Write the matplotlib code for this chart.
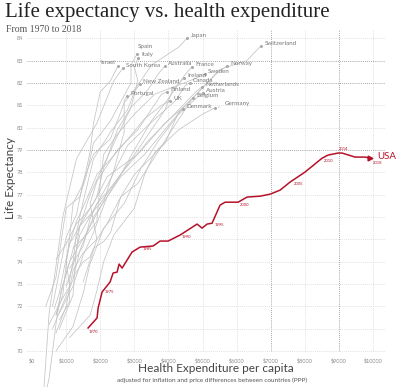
import matplotlib
matplotlib.use('Agg')
import matplotlib.pyplot as plt

# years for the grey country lines
years = [1970, 1975, 1980, 1985, 1990, 1995, 2000, 2005, 2010, 2015, 2018]

# health expenditure per capita ($) and life expectancy, per country
japan_spend = [600, 1000, 1300, 1500, 1800, 2300, 2700, 3100, 3500, 4300, 4545]
japan_le = [72.0, 75.1, 76.1, 77.6, 78.8, 79.5, 81.1, 81.9, 82.8, 83.6, 84.0]
swiss_spend = [1500, 1900, 2200, 2600, 3100, 3600, 4100, 4700, 5500, 6300, 6716]
swiss_le = [73.1, 75.0, 75.7, 76.9, 77.5, 78.7, 79.9, 81.3, 82.6, 83.0, 83.66]
spain_spend = [400, 700, 900, 1000, 1400, 1600, 1800, 2300, 2900, 2900, 3079]
spain_le = [72.0, 73.3, 75.4, 76.4, 76.9, 77.9, 79.3, 80.3, 82.0, 82.8, 83.30]
italy_spend = [700, 900, 1100, 1400, 1900, 2100, 2500, 2900, 3100, 3000, 3109]
italy_le = [71.6, 72.9, 74.0, 75.6, 76.9, 78.2, 79.9, 80.9, 82.1, 82.7, 83.13]
israel_spend = [700, 900, 1000, 1100, 1200, 1500, 1700, 1800, 2000, 2300, 2522]
israel_le = [71.6, 72.5, 73.9, 75.1, 76.6, 77.5, 78.9, 80.2, 81.6, 82.1, 82.77]
korea_spend = [80, 150, 250, 350, 500, 700, 900, 1300, 1900, 2400, 2669]
korea_le = [62.3, 64.5, 66.1, 68.4, 71.7, 73.8, 76.0, 78.6, 80.2, 82.1, 82.68]
australia_spend = [800, 1200, 1300, 1400, 1700, 2000, 2400, 2900, 3400, 3700, 3900]
australia_le = [71.0, 72.5, 74.6, 75.6, 77.0, 78.0, 79.3, 80.9, 81.7, 82.4, 82.77]
france_spend = [800, 1200, 1500, 1800, 2200, 2600, 3000, 3500, 4000, 4500, 4692]
france_le = [71.7, 72.9, 74.3, 75.3, 76.9, 77.9, 79.0, 80.3, 81.3, 82.4, 82.72]
norway_spend = [700, 1000, 1300, 1500, 1800, 2200, 3100, 3900, 4500, 5400, 5718]
norway_le = [74.1, 74.8, 75.7, 76.0, 76.6, 77.8, 78.8, 80.2, 81.0, 82.4, 82.77]
ireland_spend = [500, 800, 1100, 1000, 1100, 1400, 2000, 3100, 3900, 4100, 4457]
ireland_le = [71.2, 72.1, 72.9, 74.0, 74.8, 75.6, 76.6, 79.0, 80.8, 81.6, 82.23]
sweden_spend = [1200, 1600, 1900, 1950, 2000, 2100, 2500, 3000, 3600, 4800, 5073]
sweden_le = [74.6, 75.2, 75.8, 76.7, 77.6, 78.8, 79.7, 80.6, 81.5, 82.2, 82.41]
canada_spend = [1000, 1200, 1400, 1800, 2200, 2400, 2800, 3400, 4200, 4500, 4633]
canada_le = [72.9, 73.8, 75.2, 76.3, 77.4, 78.0, 79.2, 80.1, 81.2, 81.9, 82.0]
nz_spend = [800, 1100, 1100, 1200, 1300, 1500, 1800, 2300, 2800, 3000, 3167]
nz_le = [71.4, 72.2, 73.2, 74.0, 75.3, 76.7, 78.6, 79.8, 80.8, 81.6, 81.96]
netherlands_spend = [1100, 1500, 1700, 1900, 2200, 2400, 2700, 3400, 4300, 4800, 4985]
netherlands_le = [73.7, 74.7, 75.9, 76.6, 77.1, 77.5, 78.1, 79.4, 80.8, 81.6, 81.83]
finland_spend = [700, 1000, 1200, 1500, 1900, 1700, 1900, 2500, 3100, 3800, 3959]
finland_le = [70.8, 72.0, 73.6, 74.4, 75.0, 76.6, 77.6, 79.0, 79.9, 81.5, 81.6]
austria_spend = [700, 1200, 1500, 1700, 2100, 2700, 3200, 3700, 4300, 4800, 5015]
austria_le = [70.0, 71.1, 72.6, 73.9, 75.5, 76.6, 78.2, 79.4, 80.6, 81.3, 81.56]
portugal_spend = [250, 500, 700, 850, 1100, 1600, 2100, 2400, 2700, 2700, 2786]
portugal_le = [67.0, 68.8, 71.2, 72.7, 74.0, 75.3, 76.7, 78.1, 79.8, 81.2, 81.43]
belgium_spend = [600, 900, 1200, 1400, 1800, 2200, 2600, 3300, 4000, 4500, 4721]
belgium_le = [71.0, 72.1, 73.2, 74.5, 76.0, 76.9, 77.8, 78.8, 80.1, 81.0, 81.34]
uk_spend = [650, 800, 950, 1100, 1300, 1600, 1900, 2600, 3300, 3800, 4047]
uk_le = [71.9, 72.6, 73.8, 74.8, 75.8, 76.8, 77.9, 79.1, 80.4, 81.0, 81.2]
germany_spend = [1100, 1700, 1900, 2100, 2400, 3000, 3300, 3600, 4300, 5000, 5367]
germany_le = [70.6, 71.6, 72.7, 74.0, 75.2, 76.4, 77.9, 78.9, 79.9, 80.6, 80.89]
denmark_spend = [1200, 1500, 1700, 1800, 2100, 2300, 2600, 3000, 3900, 4300, 4428]
denmark_le = [73.3, 74.0, 74.2, 74.6, 74.9, 75.3, 76.9, 77.9, 79.3, 80.7, 80.85]

# USA (red line)
usa_year = [1970, 1971, 1972, 1975, 1976, 1977, 1978, 1979, 1980, 1982, 1985, 1986,
            1987, 1988, 1990, 1991, 1992, 1993, 1995, 1996, 1997, 2000, 2001, 2002,
            2003, 2004, 2005, 2007, 2010, 2012, 2014, 2015, 2016, 2017, 2018]
usa_spend = [1642, 1906, 1936, 2053, 2288, 2376, 2493, 2552, 2640, 2933, 3168, 3549,
             3754, 3989, 4341, 4839, 4986, 5133, 5279, 5514, 5661, 6042, 6306, 6687,
             6981, 7274, 7567, 8007, 8506, 8682, 8975, 9092, 9474, 9767, 9914]
usa_le = [71.03, 71.48, 71.92, 72.64, 73.09, 73.49, 73.53, 73.89, 73.71, 74.43, 74.65, 74.70,
          74.92, 74.92, 75.19, 75.68, 75.50, 75.68, 75.72, 76.53, 76.66, 76.66, 76.89, 76.93,
          77.02, 77.20, 77.56, 78.01, 78.63, 78.77, 78.86, 78.86, 78.68, 78.68, 78.63]
usa_label_years = [1970, 1975, 1985, 1990, 1995, 2000, 2005, 2010, 2014, 2018]

x_ticks = [0, 1000, 2000, 3000, 4000, 5000, 6000, 7000, 8000, 9000, 10000]
y_ticks = [70, 71, 72, 73, 74, 75, 76, 77, 78, 79, 80, 81, 82, 83, 84]

countries = [
	("Japan", japan_spend, japan_le),
	("Switzerland", swiss_spend, swiss_le),
	("Spain", spain_spend, spain_le),
	("Italy", italy_spend, italy_le),
	("Israel", israel_spend, israel_le),
	("South Korea", korea_spend, korea_le),
	("Australia", australia_spend, australia_le),
	("France", france_spend, france_le),
	("Norway", norway_spend, norway_le),
	("Ireland", ireland_spend, ireland_le),
	("Sweden", sweden_spend, sweden_le),
	("Canada", canada_spend, canada_le),
	("New Zealand", nz_spend, nz_le),
	("Netherlands", netherlands_spend, netherlands_le),
	("Finland", finland_spend, finland_le),
	("Austria", austria_spend, austria_le),
	("Portugal", portugal_spend, portugal_le),
	("Belgium", belgium_spend, belgium_le),
	("UK", uk_spend, uk_le),
	("Germany", germany_spend, germany_le),
	("Denmark", denmark_spend, denmark_le),
]

# label offsets in pixels (default: just right of the end point)
label_offset = {"Japan": (4, 3), "Switzerland": (4, 2), "Spain": (1, 7), "Italy": (3, 3),
                "Israel": (-3, 3), "Germany": (10, 4)}
year_offset = {1970: (1, -4), 1975: (3, 0), 1985: (3, -2), 1990: (2, -2), 1995: (3, -2),
               2000: (2, -3), 2005: (4, -2), 2010: (2, -3), 2014: (1, 4), 2018: (3, -5)}

RED = "#b5122a"
SANS = ["Lato", "DejaVu Sans"]

fig = plt.figure(figsize=(4.0, 3.87), dpi=100)
ax = fig.add_axes([0.0675, 0.0902, 0.895, 0.8341])
ax.set_xlim(-150, 10352)
ax.set_ylim(69.95, 84.4)
for s in ax.spines.values():
	s.set_visible(False)

# grid
for v in x_ticks[1:]:
	dark = v in (7000, 9000)
	ax.axvline(v, color="#888888" if dark else "#d6d6d6", lw=0.6, ls=(0, (1, 1.5)), zorder=0)
for v in y_ticks:
	dark = v in (79, 82, 83)
	ax.axhline(v, color="#888888" if dark else "#d6d6d6", lw=0.6, ls=(0, (1, 1.5)), zorder=0)

ax.set_xticks(x_ticks)
ax.set_xticklabels(["$" + str(v) for v in x_ticks])
ax.set_yticks(y_ticks)
ax.set_yticklabels([str(v) for v in y_ticks])
ax.tick_params(length=0, labelsize=4, labelcolor="#888888", pad=4)
ax.tick_params(axis="y", pad=2.5)
for t in ax.get_xticklabels() + ax.get_yticklabels():
	t.set_family(SANS)

# grey country lines
for name, sp, le in countries:
	ax.plot(sp, le, color="#c4c4c4", lw=0.55, clip_on=False, zorder=1)
	ax.plot(sp[-1], le[-1], "o", color="#aaaaaa", ms=1.2, zorder=2)
	dx, dy = label_offset.get(name, (3, 2))
	ha = "right" if dx < 0 else "left"
	ax.annotate(name, (sp[-1], le[-1]), xytext=(dx, dy), textcoords="offset pixels",
	            fontsize=4.5, color="#777777", ha=ha, va="center", family=SANS,
	            arrowprops=dict(arrowstyle="-", color="#aaaaaa", lw=0.4) if name == "Germany" else None)

# USA
ax.plot(usa_spend, usa_le, color=RED, lw=1.1, zorder=4)
ax.plot(usa_spend[-1], usa_le[-1], ">", color=RED, ms=3.5, zorder=4)
ax.annotate("USA", (usa_spend[-1], usa_le[-1]), xytext=(7, 2), textcoords="offset pixels",
            fontsize=7, color=RED, ha="left", va="center", family=SANS)
for yr in usa_label_years:
	i = usa_year.index(yr)
	dx, dy = year_offset[yr]
	ax.annotate(str(yr), (usa_spend[i], usa_le[i]), xytext=(dx, dy), textcoords="offset pixels",
	            fontsize=3, color=RED, ha="left", va="center", family=SANS, zorder=5)

fig.text(0.026, 0.54, "Life Expectancy", fontsize=8.5, color="#444444", family=SANS,
         rotation=90, ha="center", va="center")
fig.text(0.54, 0.048, "Health Expenditure per capita", fontsize=8.5, color="#444444",
         ha="center", va="center", family=SANS)
fig.text(0.53, 0.018, "adjusted for inflation and price differences between countries (PPP)",
         fontsize=4.6, color="#555555", ha="center", va="center", family=SANS)

fig.text(0.012, 0.968, "Life expectancy vs. health expenditure", fontsize=15,
         color="#222222", ha="left", va="center", family="Liberation Serif")
fig.text(0.014, 0.925, "From 1970 to 2018", fontsize=7, color="#555555",
         ha="left", va="center", family="Liberation Serif")

fig.savefig("out.png", dpi=100, facecolor="white")
